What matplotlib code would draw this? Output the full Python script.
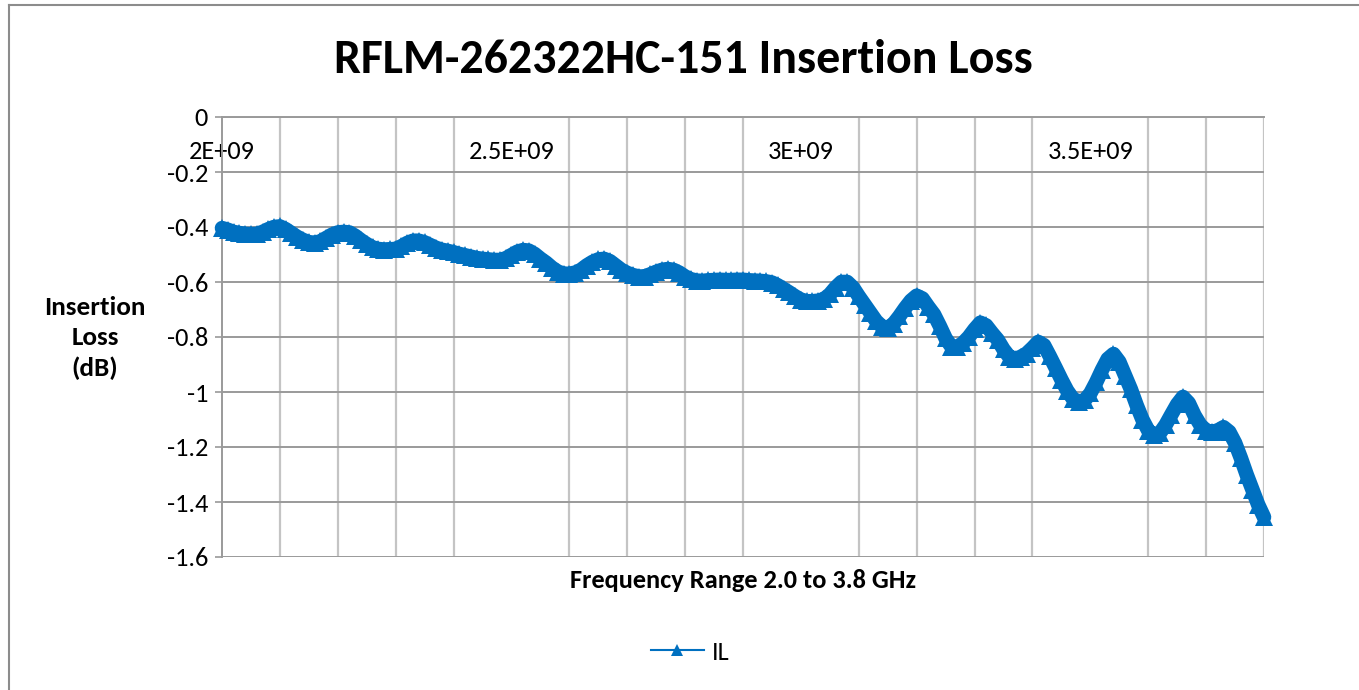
import matplotlib
matplotlib.use("Agg")
import matplotlib.pyplot as plt
from matplotlib.lines import Line2D
from matplotlib import font_manager

# ---------------- data ----------------
freq_ghz = [round(2.00 + 0.01 * i, 2) for i in range(181)]
insertion_loss_db = [
    -0.404, -0.410, -0.418, -0.422, -0.425, -0.426, -0.425, -0.418, -0.408, -0.400,
    -0.398, -0.408, -0.422, -0.436, -0.447, -0.455, -0.458, -0.452, -0.440, -0.428,
    -0.420, -0.418, -0.420, -0.432, -0.448, -0.462, -0.474, -0.480, -0.482, -0.481,
    -0.480, -0.470, -0.458, -0.450, -0.450, -0.456, -0.466, -0.476, -0.483, -0.487,
    -0.492, -0.498, -0.503, -0.508, -0.513, -0.516, -0.518, -0.520, -0.520, -0.514,
    -0.502, -0.490, -0.484, -0.486, -0.498, -0.515, -0.530, -0.548, -0.562, -0.570,
    -0.570, -0.566, -0.556, -0.540, -0.527, -0.518, -0.516, -0.524, -0.540, -0.556,
    -0.567, -0.575, -0.580, -0.580, -0.572, -0.563, -0.556, -0.553, -0.556, -0.566,
    -0.580, -0.590, -0.595, -0.596, -0.594, -0.593, -0.592, -0.593, -0.593, -0.592,
    -0.592, -0.594, -0.595, -0.596, -0.598, -0.602, -0.612, -0.625, -0.638, -0.652,
    -0.664, -0.670, -0.670, -0.668, -0.662, -0.645, -0.620, -0.600, -0.600, -0.620,
    -0.652, -0.682, -0.712, -0.742, -0.762, -0.767, -0.752, -0.725, -0.695, -0.668,
    -0.650, -0.660, -0.690, -0.718, -0.760, -0.805, -0.835, -0.838, -0.822, -0.800,
    -0.772, -0.748, -0.758, -0.785, -0.810, -0.845, -0.872, -0.880, -0.872, -0.860,
    -0.840, -0.818, -0.830, -0.870, -0.912, -0.955, -0.995, -1.025, -1.037, -1.030,
    -1.005, -0.965, -0.920, -0.880, -0.862, -0.890, -0.940, -0.990, -1.048, -1.100,
    -1.140, -1.156, -1.150, -1.120, -1.082, -1.045, -1.018, -1.040, -1.085, -1.120,
    -1.140, -1.145, -1.140, -1.128, -1.145, -1.185, -1.240, -1.300, -1.355, -1.410,
    -1.455,
]
x_major_ticks_hz = [2.0e9, 2.5e9, 3.0e9, 3.5e9]
x_major_labels = ["2E+09", "2.5E+09", "3E+09", "3.5E+09"]
x_minor_ticks_hz = [round(2.0 + 0.1 * i, 1) * 1e9 for i in range(19)]
y_ticks = [0, -0.2, -0.4, -0.6, -0.8, -1.0, -1.2, -1.4, -1.6]
y_labels = ["0", "-0.2", "-0.4", "-0.6", "-0.8", "-1", "-1.2", "-1.4", "-1.6"]
series_name = "IL"
title_text = "RFLM-262322HC-151 Insertion Loss"
x_title = "Frequency Range 2.0 to 3.8 GHz"
y_title = "Insertion\nLoss\n(dB)"

# ---------------- style ----------------
installed = {f.name for f in font_manager.fontManager.ttflist}
FONT = "Carlito" if "Carlito" in installed else "Lato"
plt.rcParams["font.family"] = [FONT, "DejaVu Sans"]

BLUE = "#0070C0"
W, H = 1359, 690
fig = plt.figure(figsize=(W / 100, H / 100), dpi=100)
fig.patch.set_facecolor("white")

L, R, T, B = 222, 1264, 117, 557
ax = fig.add_axes([L / W, 1 - B / H, (R - L) / W, (B - T) / H])

freq_hz = [f * 1e9 for f in freq_ghz]
ax.plot(freq_hz, insertion_loss_db, color=BLUE, lw=10.5, marker="^",
        markersize=13, markeredgewidth=0, solid_joinstyle="round",
        solid_capstyle="round", zorder=3, clip_on=False)

ax.set_xlim(2.0e9, 3.8e9)
ax.set_ylim(-1.6, 0)

TICK_FS = 19
ax.set_yticks(y_ticks)
ax.set_yticklabels(y_labels, fontsize=TICK_FS)
ax.tick_params(axis="y", length=5, width=1.2, color="#9a9a9a", pad=5)

ax.set_xticks(x_major_ticks_hz)
ax.set_xticks(x_minor_ticks_hz, minor=True)
ax.set_xticklabels(x_major_labels, fontsize=TICK_FS)
ax.xaxis.set_ticks_position("top")
ax.xaxis.set_label_position("bottom")
ax.tick_params(axis="x", which="both", length=0, pad=-33)

ax.grid(True, axis="y", color="#9a9a9a", lw=1.4, zorder=0)
ax.grid(True, axis="x", which="minor", color="#c4c4c4", lw=1.6, zorder=0)
ax.grid(False, axis="x", which="major")
ax.set_axisbelow(True)

for s in ("right", "bottom"):
    ax.spines[s].set_visible(False)
ax.spines["left"].set_color("#9a9a9a")
ax.spines["left"].set_linewidth(1.4)
ax.spines["top"].set_color("#9a9a9a")
ax.spines["top"].set_linewidth(1.4)

fig.text(683 / W, 1 - 60 / H, title_text, ha="center", va="center",
         fontsize=34.5, fontweight="bold")
fig.text(743 / W, 1 - 580 / H, x_title, ha="center", va="center",
         fontsize=19, fontweight="bold")
fig.text(95 / W, 1 - 338 / H, y_title, ha="center", va="center",
         fontsize=19.5, fontweight="bold", linespacing=1.38)

handle = Line2D([], [], color=BLUE, lw=1.5, marker="^", markersize=9,
                markeredgewidth=0)
fig.legend([handle], [series_name], loc="center",
           bbox_to_anchor=(690 / W, 1 - 652 / H), frameon=False,
           fontsize=19, handlelength=2.0, handletextpad=0.3)

# chart frame (left and top edges visible)
fig.add_artist(Line2D([8.5 / W, 8.5 / W], [0, 1 - 5 / H], transform=fig.transFigure,
                      color="#8c8c8c", lw=1.5))
fig.add_artist(Line2D([8.5 / W, 1], [1 - 5 / H, 1 - 5 / H], transform=fig.transFigure,
                      color="#8c8c8c", lw=1.5))

fig.savefig("out.png", dpi=100)
